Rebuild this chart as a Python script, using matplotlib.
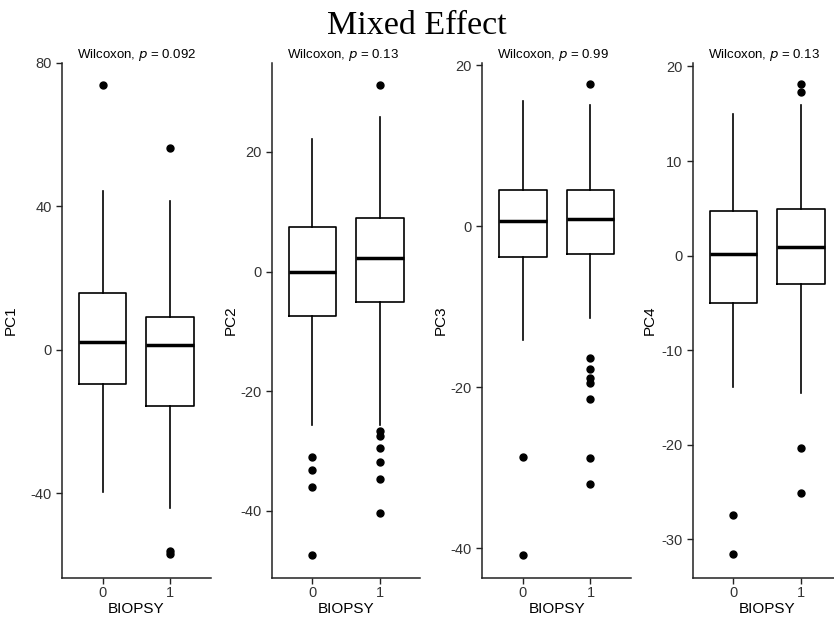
import matplotlib
matplotlib.use('Agg')
import matplotlib.pyplot as plt

# box statistics, group 0 and group 1 per component
pcs = ['PC1', 'PC2', 'PC3', 'PC4']
pvals = ['0.092', '0.13', '0.99', '0.13']
groups = ['0', '1']

pc1_med = [2.0, 1.2]
pc1_q1 = [-9.7, -15.8]
pc1_q3 = [15.9, 9.2]
pc1_lo = [-39.7, -44.3]
pc1_hi = [44.1, 41.5]
pc1_out = [[73.8], [56.1, -56.3, -57.0]]

pc2_med = [0.0, 2.35]
pc2_q1 = [-7.5, -5.05]
pc2_q3 = [7.4, 9.0]
pc2_lo = [-25.7, -25.6]
pc2_hi = [22.1, 25.9]
pc2_out = [[-31.0, -33.1, -36.0, -47.3], [31.2, -26.6, -27.5, -29.4, -31.9, -34.6, -40.4]]

pc3_med = [0.64, 0.83]
pc3_q1 = [-3.77, -3.44]
pc3_q3 = [4.5, 4.5]
pc3_lo = [-14.2, -11.4]
pc3_hi = [15.5, 15.0]
pc3_out = [[-28.7, -40.9], [17.7, -16.4, -17.7, -18.8, -19.5, -21.5, -28.8, -32.0]]

pc4_med = [0.15, 0.9]
pc4_q1 = [-4.97, -3.05]
pc4_q3 = [4.69, 4.92]
pc4_lo = [-13.95, -14.5]
pc4_hi = [15.0, 15.9]
pc4_out = [[-27.4, -31.6], [18.2, 17.3, -20.4, -25.1]]

ylims = [(-63.7, 80), (-51.2, 34.9), (-43.7, 20.3), (-34.1, 20.4)]
yticks = [[-40, 0, 40, 80], [-40, -20, 0, 20], [-40, -20, 0, 20], [-30, -20, -10, 0, 10, 20]]

data = [
    (pc1_med, pc1_q1, pc1_q3, pc1_lo, pc1_hi, pc1_out),
    (pc2_med, pc2_q1, pc2_q3, pc2_lo, pc2_hi, pc2_out),
    (pc3_med, pc3_q1, pc3_q3, pc3_lo, pc3_hi, pc3_out),
    (pc4_med, pc4_q1, pc4_q3, pc4_lo, pc4_hi, pc4_out),
]

plt.rcParams['font.family'] = ['Liberation Sans', 'DejaVu Sans']
plt.rcParams['axes.unicode_minus'] = False

W, H = 834, 619
fig = plt.figure(figsize=(W / 100, H / 100), dpi=100)

lefts = [62, 271.7, 482.3, 692.7]
ylab_x = [18, 238, 448, 657]
aw = 148.7
top, bottom = 62.7, 578

for i in range(4):
    ax = fig.add_axes([lefts[i] / W, (H - bottom) / H, aw / W, (bottom - top) / H])
    med, q1, q3, lo, hi, out = data[i]
    stats = []
    for g in range(2):
        stats.append({'med': med[g], 'q1': q1[g], 'q3': q3[g],
                      'whislo': lo[g], 'whishi': hi[g], 'fliers': out[g]})
    ax.bxp(stats, positions=[1, 2], widths=0.7, showcaps=False,
           boxprops=dict(color='black', linewidth=1.2),
           whiskerprops=dict(color='black', linewidth=1.2),
           medianprops=dict(color='black', linewidth=2.5),
           flierprops=dict(marker='o', markerfacecolor='black', markeredgecolor='black',
                           markersize=5))
    ax.set_xlim(0.4, 2.6)
    ax.set_ylim(*ylims[i])
    ax.set_yticks(yticks[i])
    ax.set_xticks([1, 2])
    ax.set_xticklabels(groups)
    ax.spines['top'].set_visible(False)
    ax.spines['right'].set_visible(False)
    for s in ['left', 'bottom']:
        ax.spines[s].set_linewidth(1.1)
        ax.spines[s].set_color('#222222')
    ax.tick_params(labelsize=10.5, colors='#222222', labelcolor='#333333', length=4, width=1.0)
    ax.tick_params(axis='x', pad=2)
    ax.set_ylabel(pcs[i], fontsize=11)
    ax.yaxis.set_label_coords((ylab_x[i] - lefts[i]) / aw, 0.5)
    ax.set_xlabel('BIOPSY', fontsize=11, labelpad=1)
    ax.text(0.1, 1.0, 'Wilcoxon, $\\it{p}$ = ' + pvals[i], transform=ax.transAxes,
            fontsize=9.5, ha='left', va='bottom')

fig.text(416.7 / W, 1 - 26 / H, 'Mixed Effect', fontsize=24.5, family='Liberation Serif',
         ha='center', va='center')

fig.savefig('out.png', dpi=100)
